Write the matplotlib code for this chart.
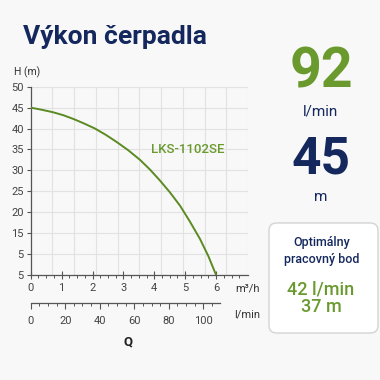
import matplotlib
matplotlib.use("Agg")
import matplotlib.pyplot as plt
import numpy as np
from matplotlib.patches import FancyBboxPatch
from matplotlib.ticker import MultipleLocator, FixedLocator

plt.rcParams['font.family'] = ['Roboto', 'DejaVu Sans']

# ---- data ----
flow_m3h = [0, 0.35, 0.72, 1.05, 1.38, 1.73, 2.08, 2.43, 2.78, 3.16, 3.54,
            3.86, 4.18, 4.5, 4.83, 5.15, 5.48, 5.75, 6.0]
head_m = [45, 44.5, 43.9, 43.2, 42.3, 41.2, 40.0, 38.5, 36.8, 34.8, 32.5,
          30.2, 27.6, 24.8, 21.6, 17.8, 13.6, 9.5, 5]
y_ticks = [50, 45, 40, 35, 30, 25, 20, 15, 10, 5]
y_tick_labels = ["50", "45", "40", "35", "30", "25", "20", "15", "5", "5"]
x_ticks_m3h = [0, 1, 2, 3, 4, 5, 6]
x_ticks_lmin = [0, 20, 40, 60, 80, 100]
model_name = "LKS-1102SE"
max_flow = "92"
max_flow_unit = "l/min"
max_head = "45"
max_head_unit = "m"
opt_title = "Optimálny\npracovný bod"
opt_flow = "42 l/min"
opt_head = "37 m"

NAVY = "#14285e"
GREEN = "#6a9a2e"
LINE_GREEN = "#5b8a22"
BG = "#f8f8f8"
AX = "#555555"

W = H = 380
fig = plt.figure(figsize=(3.8, 3.8), dpi=100, facecolor=BG)

def fx(px):
    return px / W

def fy(py):
    return 1 - py / H

# main axes
x0, x1 = 30.7, 248.0
y_top, y_bot = 86.7, 275.0
ax = fig.add_axes([fx(x0), fy(y_bot), fx(x1 - x0), (y_bot - y_top) / H])
ax.set_facecolor(BG)
xmax = (x1 - x0) / 30.9
ax.set_xlim(0, xmax)
ax.set_ylim(5, 50)
ax.plot(flow_m3h, head_m, color=LINE_GREEN, lw=1.4, solid_capstyle='round',
        solid_joinstyle='round', zorder=3)
for gx in np.arange(1, 11) * xmax / 10:
    ax.axvline(gx, color="#e2e2e2", lw=0.8, zorder=0)
for gy in y_ticks:
    ax.axhline(gy, color="#e2e2e2", lw=0.8, zorder=0)
ax.set_yticks(y_ticks)
ax.set_yticklabels(y_tick_labels)
ax.xaxis.set_major_locator(FixedLocator(x_ticks_m3h))
ax.xaxis.set_minor_locator(FixedLocator([t for t in np.arange(0, 7.01, 0.25) if abs(t - round(t)) > 1e-6]))
ax.tick_params(axis='y', length=3, width=0.8, color=AX, labelsize=8, labelcolor="#444444", pad=2)
ax.tick_params(axis='x', which='major', direction='inout', length=6, width=0.8, color=AX,
               labelsize=8, labelcolor="#444444", pad=3)
ax.tick_params(axis='x', which='minor', direction='out', length=2.5, width=0.7, color=AX)
for s in ['top', 'right']:
    ax.spines[s].set_visible(False)
for s in ['left', 'bottom']:
    ax.spines[s].set_color(AX)
    ax.spines[s].set_linewidth(0.9)
ax.text(3.9, 35, model_name, color=GREEN, fontsize=9.5, fontweight='medium', va='center', ha='left')

# secondary l/min axis
ly = 303.0
lx1 = 220.0
scale = 100 / (203.3 - x0)
ax2 = fig.add_axes([fx(x0), fy(ly), fx(lx1 - x0), 0.001])
ax2.set_facecolor('none')
ax2.set_xlim(0, (lx1 - x0) * scale)
ax2.set_yticks([])
for s in ['top', 'right', 'left']:
    ax2.spines[s].set_visible(False)
ax2.spines['bottom'].set_color(AX)
ax2.spines['bottom'].set_linewidth(0.9)
ax2.xaxis.set_major_locator(FixedLocator(x_ticks_lmin))
ax2.xaxis.set_minor_locator(MultipleLocator(5))
ax2.tick_params(axis='x', which='major', direction='out', length=4, width=0.8, color=AX,
                labelsize=8, labelcolor="#444444", pad=5)
ax2.tick_params(axis='x', which='minor', direction='out', length=2.5, width=0.7, color=AX)

# labels
fig.text(fx(14), fy(72), "H (m)", fontsize=7.5, color="#333333", va='center', ha='left')
fig.text(fx(247), fy(288), "m³/h", fontsize=8, color="#333333", va='center', ha='center')
fig.text(fx(247), fy(315), "l/min", fontsize=8, color="#333333", va='center', ha='center')
fig.text(fx(128), fy(342), "Q", fontsize=9.5, fontweight='bold', color="#222222", va='center', ha='center')

# title
fig.text(fx(23), fy(37), "Výkon čerpadla", fontsize=19, fontweight='bold', color=NAVY, va='center', ha='left')

# right KPI
cx = 321
fig.text(fx(cx), fy(72), max_flow, fontsize=40, fontweight='bold', color=GREEN, va='center', ha='center')
fig.text(fx(cx), fy(111), max_flow_unit, fontsize=11, color=NAVY, va='center', ha='center')
fig.text(fx(cx), fy(159), max_head, fontsize=37, fontweight='bold', color=NAVY, va='center', ha='center')
fig.text(fx(cx), fy(197), max_head_unit, fontsize=11, color=NAVY, va='center', ha='center')

box = FancyBboxPatch((fx(269), fy(333)), fx(378 - 269), (333 - 223) / H,
                     boxstyle="round,pad=0,rounding_size=0.02", transform=fig.transFigure,
                     facecolor="#ffffff", edgecolor="#d4d4d4", lw=1.0)
fig.patches.append(box)
fig.text(fx(322), fy(251), opt_title, fontsize=9, color=NAVY, va='center', ha='center',
         linespacing=1.4, fontweight='medium')
fig.text(fx(321), fy(290), opt_flow, fontsize=13, color=GREEN, va='center', ha='center', fontweight='medium')
fig.text(fx(321), fy(307), opt_head, fontsize=13, color=GREEN, va='center', ha='center', fontweight='medium')

fig.savefig("out.png", dpi=100, facecolor=BG)
